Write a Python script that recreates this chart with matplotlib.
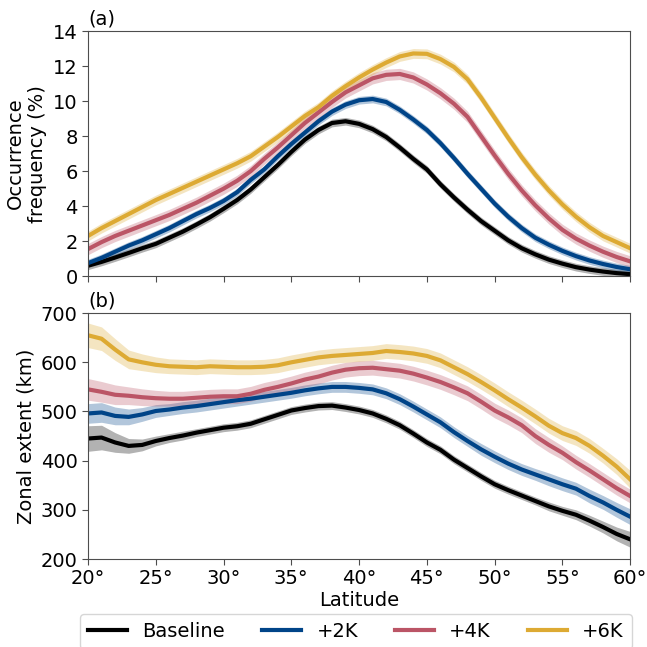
import numpy as np
import matplotlib
matplotlib.use("Agg")
import matplotlib.pyplot as plt

lat = list(range(20, 61))

# (a) occurrence frequency (%)
freq_base = [0.6, 0.82, 1.07, 1.33, 1.6, 1.85, 2.2, 2.55, 2.95, 3.37,
             3.85, 4.35, 4.95, 5.65, 6.35, 7.1, 7.8, 8.35, 8.75, 8.85,
             8.7, 8.4, 7.95, 7.35, 6.7, 6.1, 5.25, 4.5, 3.8, 3.15,
             2.6, 2.05, 1.6, 1.25, 0.95, 0.72, 0.52, 0.38, 0.27, 0.18, 0.12]
freq_2k = [0.75, 1.05, 1.4, 1.75, 2.05, 2.4, 2.75, 3.15, 3.55, 3.9,
           4.3, 4.8, 5.5, 6.1, 6.85, 7.55, 8.2, 8.85, 9.4, 9.8,
           10.05, 10.12, 9.95, 9.5, 8.95, 8.35, 7.6, 6.75, 5.85, 5.0,
           4.15, 3.4, 2.75, 2.2, 1.8, 1.45, 1.15, 0.9, 0.7, 0.53, 0.4]
freq_4k = [1.55, 1.95, 2.3, 2.6, 2.9, 3.2, 3.5, 3.85, 4.2, 4.6,
           5.0, 5.45, 6.0, 6.7, 7.35, 8.05, 8.75, 9.35, 9.95, 10.5,
           10.9, 11.3, 11.5, 11.55, 11.35, 10.95, 10.45, 9.85, 9.1, 8.0,
           6.9, 5.85, 4.9, 4.05, 3.3, 2.65, 2.15, 1.75, 1.4, 1.1, 0.85]
freq_6k = [2.3, 2.75, 3.15, 3.55, 3.95, 4.35, 4.7, 5.05, 5.4, 5.75,
           6.1, 6.45, 6.85, 7.4, 7.95, 8.55, 9.15, 9.65, 10.3, 10.85,
           11.35, 11.8, 12.2, 12.55, 12.72, 12.7, 12.4, 11.95, 11.25, 10.2,
           9.05, 7.9, 6.8, 5.8, 4.9, 4.1, 3.4, 2.8, 2.3, 1.95, 1.6]
freq_spread = [0.22, 0.22, 0.32, 0.28]

# (b) zonal extent (km)
ext_base = [445, 447, 437, 430, 432, 440, 446, 451, 457, 462,
            467, 470, 475, 484, 493, 502, 507, 511, 512, 508,
            503, 496, 485, 472, 455, 437, 422, 402, 385, 368,
            352, 340, 329, 318, 307, 298, 290, 278, 265, 251, 240]
ext_2k = [496, 498, 491, 489, 494, 501, 504, 508, 511, 515,
          519, 523, 526, 530, 534, 538, 543, 547, 550, 550,
          548, 545, 537, 525, 510, 494, 478, 458, 440, 423,
          408, 394, 382, 372, 362, 352, 343, 328, 315, 300, 286]
ext_4k = [545, 540, 534, 532, 529, 527, 526, 526, 528, 530,
          531, 531, 536, 544, 550, 557, 565, 571, 579, 585,
          588, 589, 586, 583, 577, 569, 560, 549, 537, 520,
          502, 488, 472, 450, 432, 416, 397, 380, 362, 344, 328]
ext_6k = [655, 648, 626, 606, 600, 595, 592, 591, 590, 592,
          591, 590, 590, 591, 594, 600, 605, 610, 613, 615,
          617, 619, 623, 621, 618, 613, 604, 590, 576, 560,
          543, 525, 508, 490, 471, 456, 446, 430, 410, 388, 362]
ext_spread_base = [26, 25, 20, 15, 12, 10, 9, 9, 8, 8,
                   8, 8, 8, 8, 8, 8, 8, 8, 8, 8,
                   8, 8, 8, 8, 8, 8, 8, 8, 8, 8,
                   8, 8, 8, 8, 9, 9, 10, 11, 12, 14, 16]
ext_spread_2k = [20, 20, 18, 16, 14, 13, 12, 12, 12, 12,
                 12, 12, 11, 11, 11, 11, 11, 11, 11, 11,
                 11, 11, 11, 11, 11, 11, 11, 11, 11, 12,
                 12, 12, 12, 12, 13, 13, 13, 14, 14, 15, 16]
ext_spread_4k = [22, 21, 20, 18, 17, 16, 15, 15, 15, 15,
                 15, 15, 15, 15, 15, 15, 15, 15, 15, 15,
                 15, 15, 15, 15, 15, 15, 15, 15, 15, 15,
                 15, 15, 15, 15, 15, 14, 14, 14, 14, 14, 14]
ext_spread_6k = [25, 24, 22, 19, 17, 16, 15, 15, 15, 15,
                 15, 15, 15, 15, 15, 15, 15, 15, 15, 15,
                 15, 15, 15, 15, 15, 15, 15, 15, 15, 15,
                 15, 15, 15, 15, 15, 15, 15, 15, 15, 16, 18]

labels = ["Baseline", "+2K", "+4K", "+6K"]
colors = ["#000000", "#004488", "#BB5566", "#DDAA33"]

plt.rcParams["font.family"] = "DejaVu Sans"
plt.rcParams["font.size"] = 14

fig = plt.figure(figsize=(6.47, 6.47), dpi=100)
ax_a = fig.add_axes([0.136, 0.573, 0.838, 0.379])
ax_b = fig.add_axes([0.136, 0.136, 0.838, 0.380])

x = np.array(lat)
freq = [freq_base, freq_2k, freq_4k, freq_6k]
ext = [ext_base, ext_2k, ext_4k, ext_6k]
ext_spread = [ext_spread_base, ext_spread_2k, ext_spread_4k, ext_spread_6k]

lines = []
for i in range(4):
    y = np.array(freq[i])
    ax_a.fill_between(x, y - freq_spread[i], y + freq_spread[i],
                      color=colors[i], alpha=0.3, lw=0)
    ln, = ax_a.plot(x, y, color=colors[i], lw=3, label=labels[i])
    lines.append(ln)

    y = np.array(ext[i])
    s = np.array(ext_spread[i])
    ax_b.fill_between(x, y - s, y + s, color=colors[i], alpha=0.3, lw=0)
    ax_b.plot(x, y, color=colors[i], lw=3)

for ax in (ax_a, ax_b):
    ax.set_xlim(20, 60)
    ax.set_xticks(range(20, 61, 5))
    for sp in ax.spines.values():
        sp.set_color("0.3")
    ax.tick_params(color="0.3", length=4)

ax_a.set_ylim(0, 14)
ax_a.set_yticks(range(0, 15, 2))
ax_a.set_xticklabels([])
ax_a.set_ylabel("Occurrence\nfrequency (%)")
ax_a.text(0.0, 1.01, "(a)", transform=ax_a.transAxes, ha="left", va="bottom")

ax_b.set_ylim(200, 700)
ax_b.set_yticks(range(200, 701, 100))
ax_b.set_xticklabels(["{}°".format(v) for v in range(20, 61, 5)])
ax_b.set_ylabel("Zonal extent (km)")
ax_b.set_xlabel("Latitude", labelpad=2)
ax_b.text(0.0, 1.01, "(b)", transform=ax_b.transAxes, ha="left", va="bottom")

fig.legend(handles=lines, loc="upper left", bbox_to_anchor=(0.124, 0.051),
           borderaxespad=0, ncol=4, frameon=True, handlelength=2.0,
           columnspacing=1.9)

fig.savefig("out.png", dpi=100)
